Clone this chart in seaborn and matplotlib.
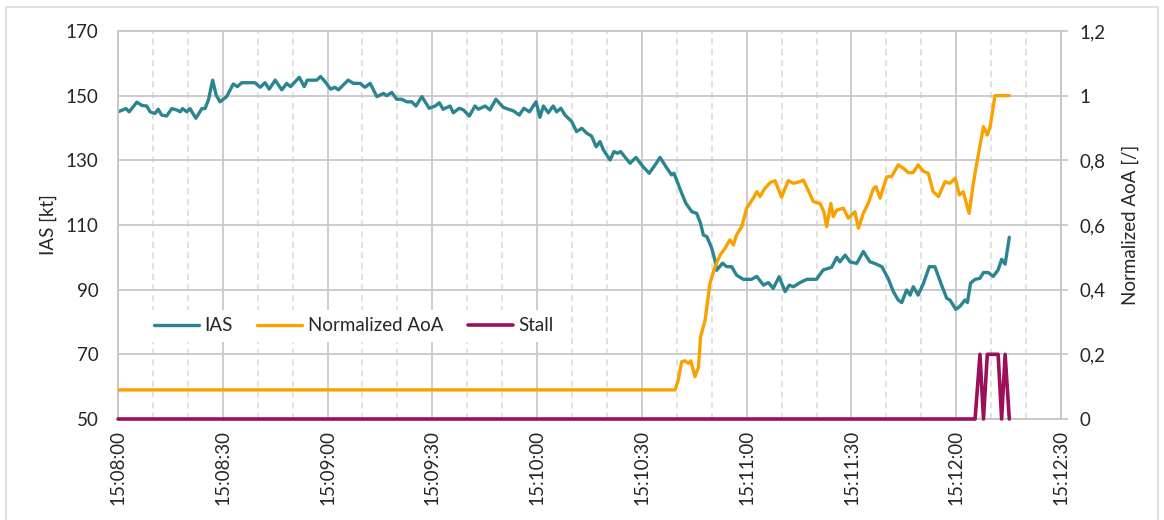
import numpy as np
import pandas as pd
import matplotlib
matplotlib.use("Agg")
import matplotlib.pyplot as plt
import matplotlib.ticker as mticker
import seaborn as sns

# seconds after 15:08:00
ias_t = [0, 1.4, 2.3, 3.2, 5.4, 6.8, 8.2, 9.2, 10.6, 11.5, 12.5, 13.9, 15.4, 16.8, 17.8,
         18.5, 19.7, 20.6, 22.3, 24.0, 24.9, 25.9, 27.1, 28.1, 29.2, 31.1, 33.0, 34.2,
         35.4, 39.2, 40.7, 42.1, 43.3, 45.0, 46.9, 48.3, 49.4, 51.9, 53.3, 54.2, 56.9,
         58.0, 59.3, 60.9, 62.1, 63.1, 65.9, 67.4, 69.3, 70.7, 72.2, 74.1, 76.0, 76.9,
         78.4, 79.8, 81.2, 82.7, 84.1, 85.3, 87.0, 89.1, 90.8, 92.0, 93.1, 95.1, 96.0,
         97.7, 98.9, 100.6, 102.2, 103.2, 105.1, 106.5, 108.2, 110.3, 111.8, 113.2,
         114.9, 116.2, 117.8, 119.7, 120.8, 121.8, 123.2, 124.6, 125.6, 126.8, 128.0,
         129.9, 131.3, 132.8, 134.2, 135.6, 136.9, 138.0, 139.0, 140.9, 142.0, 143.0,
         143.9, 146.6, 148.3, 150.2, 152.1, 153.8, 155.2, 156.9, 158.5, 159.2, 161.4,
         162.6, 164.3, 165.7, 166.8, 167.6, 168.6, 170.0, 170.9, 171.4, 173.1, 174.3,
         175.7, 177.1, 179.0, 181.4, 182.9, 184.8, 186.2, 187.6, 189.3, 191.0, 192.2,
         193.4, 195.3, 197.2, 200.0, 201.9, 204.3, 205.8, 206.7, 208.2, 209.6, 211.5,
         213.4, 215.3, 216.7, 218.7, 220.5, 222.0, 223.4, 224.4, 225.8, 226.8, 227.7,
         229.1, 230.6, 232.3, 233.9, 235.8, 237.3, 238.2, 239.9, 241.1, 242.5, 243.2,
         244.1, 245.4, 246.8, 247.8, 249.2, 250.6, 252.0, 253.0, 254.0, 255.2]
ias_kt = [145, 145.6, 146, 145, 148, 147, 146.8, 145, 144.5, 145.8, 144, 143.7, 146, 145.6,
          145, 146, 145, 146, 143, 146, 146, 148.7, 154.8, 150.2, 148.1, 149.7, 153.6,
          152.8, 154, 154, 152.6, 154, 152, 154.8, 151.8, 153.8, 152.8, 155.7, 152.8,
          154.8, 154.8, 155.9, 154.3, 152, 152.6, 151.8, 154.8, 153.8, 153.8, 152.6,
          153.8, 149.7, 150.7, 150, 151, 148.9, 148.9, 148.1, 148.1, 146.8, 149.7, 146.1,
          146.8, 147.8, 145.8, 146.8, 144.7, 146.1, 145.6, 143.7, 146.8, 145.8, 146.8,
          145.6, 148.9, 146.4, 145.8, 145.3, 144, 146.1, 145, 148.1, 143.3, 146.8, 144.7,
          146.8, 145, 146.1, 144, 142, 138.9, 139.9, 138.4, 137.5, 134.2, 135.8, 133.2,
          130.1, 132.7, 132.2, 132.7, 129.1, 130.9, 128.2, 126, 128.6, 130.9, 128, 125.5,
          126, 119.8, 116.7, 114.1, 113.6, 110.5, 106.9, 106.4, 102.8, 99.2, 96, 98.2,
          97.1, 97.1, 94.5, 93.2, 93.2, 94.1, 91.4, 92.2, 90.4, 94, 89.4, 91.4, 90.9,
          92.2, 93.2, 93.2, 96.1, 96.9, 100, 98.6, 100.7, 98.6, 98.1, 101.8, 98.6, 98.1,
          97.1, 93.5, 89.4, 86.8, 86, 89.9, 88.3, 90.9, 88.3, 91.9, 97.1, 97.1, 91.4,
          87.3, 86.8, 83.9, 84.9, 86.8, 86, 92, 93.2, 93.5, 95.3, 95.3, 94.1, 96.1, 99.4,
          97.9, 106.2]

aoa_t = [0, 159.5, 160.4, 161.4, 162.3, 163.3, 164.0, 165.2, 166.2, 166.8, 168.1, 169.5,
         170.9, 172.4, 173.8, 175.2, 176.2, 177.1, 178.6, 180.0, 181.9, 182.9, 183.8,
         185.2, 186.7, 188.1, 190.0, 191.9, 193.4, 195.3, 196.2, 197.6, 199.1, 201.0,
         202.1, 202.9, 204.1, 204.8, 205.8, 207.7, 209.1, 211.0, 212.0, 213.4, 214.8,
         216.3, 217.0, 218.2, 220.1, 221.5, 223.4, 224.8, 226.3, 227.7, 229.1, 230.6,
         232.0, 233.4, 234.9, 236.8, 238.2, 239.7, 240.9, 242.0, 243.7, 244.9, 246.3,
         247.8, 248.9, 249.7, 251.1, 255.2]
aoa = [0.09, 0.09, 0.12, 0.177, 0.18, 0.172, 0.18, 0.131, 0.16, 0.254, 0.306, 0.42, 0.47,
       0.507, 0.528, 0.554, 0.538, 0.569, 0.595, 0.652, 0.683, 0.703, 0.688, 0.713, 0.731,
       0.737, 0.686, 0.737, 0.729, 0.734, 0.739, 0.708, 0.672, 0.667, 0.641, 0.595, 0.667,
       0.626, 0.646, 0.652, 0.621, 0.641, 0.59, 0.636, 0.667, 0.713, 0.719, 0.683, 0.749,
       0.75, 0.786, 0.776, 0.762, 0.762, 0.786, 0.766, 0.76, 0.703, 0.688, 0.734, 0.729,
       0.745, 0.693, 0.703, 0.636, 0.729, 0.816, 0.904, 0.878, 0.904, 1.0, 1.0]

stall_t = [0, 245.4, 246.8, 247.8, 248.9, 252.0, 253.0, 254.0, 255.2]
stall = [0, 0, 0.2, 0, 0.2, 0.2, 0, 0.2, 0]

IAS_C = "#2B8591"
AOA_C = "#F9A100"
STALL_C = "#9C0F5B"
GRID_C = "#C8C8C8"
TXT_C = "#262626"

sns.set_style("white")
plt.rcParams["font.family"] = ["Lato", "DejaVu Sans"]
plt.rcParams["lines.solid_joinstyle"] = "round"
plt.rcParams["lines.solid_capstyle"] = "round"

fig = plt.figure(figsize=(11.64, 5.2), dpi=100)
ax = fig.add_axes([118 / 1164, 1 - 419 / 520, 943 / 1164, 388 / 520])
ax2 = ax.twinx()

# chart border
fig.add_artist(plt.Rectangle((6 / 1164, -0.02), 1152 / 1164, 1 - 7 / 520 + 0.02,
                             transform=fig.transFigure, fill=False,
                             edgecolor="#D9D9D9", lw=1.2))

df_ias = pd.DataFrame({"t": ias_t, "v": ias_kt})
df_aoa = pd.DataFrame({"t": aoa_t, "v": aoa})
df_stall = pd.DataFrame({"t": stall_t, "v": stall})

sns.lineplot(data=df_ias, x="t", y="v", ax=ax, color=IAS_C, lw=2.4, label="IAS")
sns.lineplot(data=df_aoa, x="t", y="v", ax=ax2, color=AOA_C, lw=2.4,
             label="Normalized AoA", zorder=4)
sns.lineplot(data=df_stall, x="t", y="v", ax=ax2, color=STALL_C, lw=2.6,
             label="Stall", clip_on=False, zorder=5)

ax.set_xlim(0, 270)
ax.set_ylim(50, 170)
ax2.set_ylim(0, 1.2)
ax.set_yticks(np.arange(50, 171, 20))
ax2.set_yticks(np.arange(0, 1.21, 0.2))
ax.xaxis.set_major_locator(mticker.MultipleLocator(30))
ax.xaxis.set_minor_locator(mticker.MultipleLocator(10))


def fmt_time(s, pos):
    s = int(round(s)) + 15 * 3600 + 8 * 60
    return f"{s // 3600}:{(s % 3600) // 60:02d}:{s % 60:02d}"


def fmt_comma(v, pos):
    return f"{v:.1f}".rstrip("0").rstrip(".").replace(".", ",")


ax.xaxis.set_major_formatter(mticker.FuncFormatter(fmt_time))
ax2.yaxis.set_major_formatter(mticker.FuncFormatter(fmt_comma))

ax.grid(which="major", axis="both", color=GRID_C, lw=1.3, ls="-")
ax.grid(which="minor", axis="x", color="#D9D9D9", lw=1.1, ls=(0, (4, 3)))
ax.set_axisbelow(True)

for a in (ax, ax2):
    for sp in a.spines.values():
        sp.set_color(GRID_C)
        sp.set_linewidth(1.3)
        sp.set_zorder(1)

ax.tick_params(axis="x", which="major", labelrotation=90, labelsize=13.5,
               length=0, pad=8, labelcolor=TXT_C)
ax.tick_params(axis="x", which="minor", length=0)
ax.tick_params(axis="y", labelsize=13.5, length=0, pad=14, labelcolor=TXT_C)
ax2.tick_params(axis="y", labelsize=13.5, length=5, color=GRID_C, width=1.3,
                pad=8, labelcolor=TXT_C)

ax.set_xlabel("")
ax.set_ylabel("IAS [kt]", fontsize=13.5, color=TXT_C, labelpad=6)
ax2.set_ylabel("Normalized AoA [/]", fontsize=13.5, color=TXT_C, labelpad=12)

h1, l1 = ax.get_legend_handles_labels()
h2, l2 = ax2.get_legend_handles_labels()
ax.get_legend().remove()
ax2.get_legend().remove()
leg = ax2.legend(h1 + h2, l1 + l2, loc="center", bbox_to_anchor=(0.25, 0.24),
                 ncol=3, frameon=True, fontsize=13.5, handlelength=2.4,
                 handletextpad=0.3, columnspacing=1.3, borderpad=0.4)
leg.get_frame().set_facecolor("white")
leg.get_frame().set_edgecolor("none")
leg.get_frame().set_alpha(1)
for t in leg.get_texts():
    t.set_color(TXT_C)

fig.savefig("out.png", dpi=100)
